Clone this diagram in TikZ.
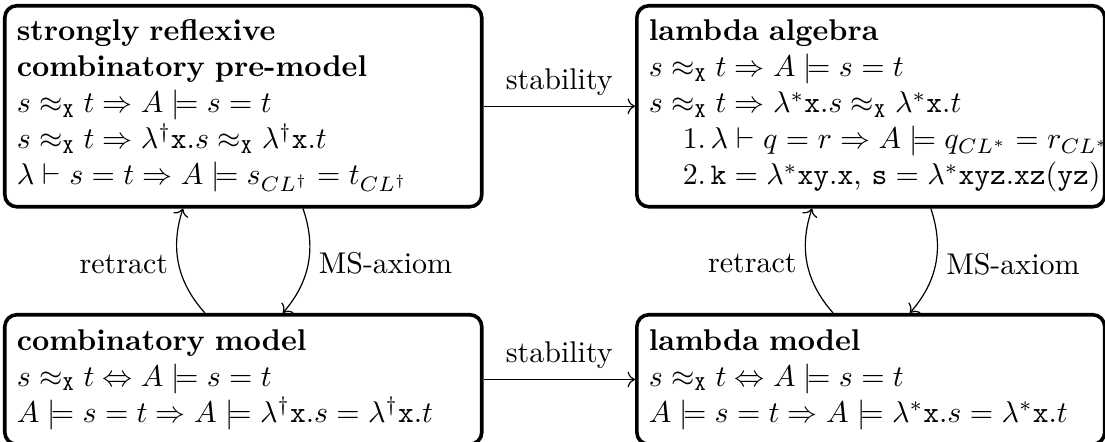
\documentclass[tikz,border=0pt]{standalone}
\usepackage{amsmath}
\usepackage{amsfonts, amssymb}
\usetikzlibrary{arrows.meta, positioning, calc}

\begin{document}
\begin{tikzpicture}[
    model/.style={draw, very thick, rounded corners=4pt, anchor=north west,
      align=left, inner xsep=4pt, inner ysep=3.4pt, text width=#1}
  ]
  \useasboundingbox (0,0) rectangle (12.946,-5.167);
  % top row
  \node[model=5.307cm, minimum height=2.355cm] (srcpm) at (0.035,-0.046)
    {\textbf{strongly reflexive}\\
     \textbf{combinatory pre-model}\\
     $s \approx_{\mathtt{X}} t \Rightarrow A \models s = t$\\
     $s \approx_{\mathtt{X}} t \Rightarrow \lambda^{\dagger}\mathtt{x}.s \approx_{\mathtt{X}} \lambda^{\dagger}\mathtt{x}.t$\\
     $\lambda \vdash s = t \Rightarrow A \models s_{CL^{\dagger}} = t_{CL^{\dagger}}$};
  \node[model=5.20cm, minimum height=2.355cm] (la) at (7.440,-0.046)
    {\textbf{lambda algebra}\\
     $s \approx_{\mathtt{X}} t \Rightarrow A \models s = t$\\
     $s \approx_{\mathtt{X}} t \Rightarrow \lambda^{*}\mathtt{x}.s \approx_{\mathtt{X}} \lambda^{*}\mathtt{x}.t$\\
     \mbox{\hspace*{11.3pt}\makebox[9.3pt][l]{1.}$\lambda \vdash q = r \Rightarrow A \models q_{CL^{*}} = r_{CL^{*}}$}\\
     \mbox{\hspace*{11.3pt}\makebox[9.3pt][l]{2.}$\mathtt{k} = \lambda^{*}\mathtt{xy.x}$, $\mathtt{s} = \lambda^{*}\mathtt{xyz.xz}(\mathtt{yz})$}};
  % bottom row
  \node[model=5.307cm, minimum height=1.518cm] (cm) at (0.035,-3.666)
    {\textbf{combinatory model}\\
     $s \approx_{\mathtt{X}} t \Leftrightarrow A \models s = t$\\
     $A \models s = t \Rightarrow A \models \lambda^{\dagger}\mathtt{x}.s = \lambda^{\dagger}\mathtt{x}.t$};
  \node[model=5.20cm, minimum height=1.518cm] (lm) at (7.440,-3.666)
    {\textbf{lambda model}\\
     $s \approx_{\mathtt{X}} t \Leftrightarrow A \models s = t$\\
     $A \models s = t \Rightarrow A \models \lambda^{*}\mathtt{x}.s = \lambda^{*}\mathtt{x}.t$};

  % stability
  \draw[->] (srcpm.east) -- (srcpm.east -| la.west) node[midway, above] {stability};
  \draw[->] (cm.east) -- (cm.east -| lm.west) node[midway, above] {stability};

  % retract and MS-axiom
  \draw[->] ([xshift=67.3pt]cm.north west) to[bend left=30] node[left] {retract} ([xshift=60pt]srcpm.south west);
  \draw[->] ([xshift=100pt]srcpm.south west) to[bend left=30] node[right] {MS-axiom} ([xshift=93.3pt]cm.north west);
  \draw[->] ([xshift=66pt]lm.north west) to[bend left=30] node[left] {retract} ([xshift=59pt]la.south west);
  \draw[->] ([xshift=98.6pt]la.south west) to[bend left=30] node[right] {MS-axiom} ([xshift=91.6pt]lm.north west);
\end{tikzpicture}
\end{document}
